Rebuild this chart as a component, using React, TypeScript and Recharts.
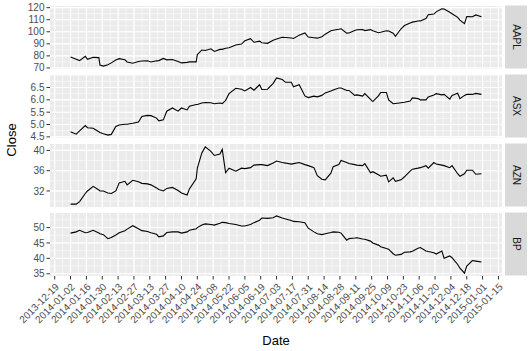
import { CartesianGrid, Line, LineChart, XAxis, YAxis } from "recharts"

const dates = [
  "2014-01-02", "2014-01-07", "2014-01-10", "2014-01-15", "2014-01-17", "2014-01-22", "2014-01-27", "2014-01-28", "2014-01-31", "2014-02-04",
  "2014-02-07", "2014-02-11", "2014-02-14", "2014-02-19", "2014-02-21", "2014-02-26", "2014-03-03", "2014-03-06", "2014-03-11", "2014-03-14",
  "2014-03-19", "2014-03-21", "2014-03-25", "2014-03-28", "2014-04-02", "2014-04-07", "2014-04-10", "2014-04-15", "2014-04-17", "2014-04-23",
  "2014-04-24", "2014-04-28", "2014-05-01", "2014-05-06", "2014-05-09", "2014-05-14", "2014-05-16", "2014-05-19", "2014-05-22", "2014-05-28",
  "2014-06-02", "2014-06-05", "2014-06-10", "2014-06-13", "2014-06-18", "2014-06-20", "2014-06-25", "2014-06-30", "2014-07-03", "2014-07-08",
  "2014-07-11", "2014-07-16", "2014-07-18", "2014-07-23", "2014-07-28", "2014-07-31", "2014-08-05", "2014-08-08", "2014-08-12", "2014-08-15",
  "2014-08-20", "2014-08-22", "2014-08-27", "2014-08-29", "2014-09-03", "2014-09-05", "2014-09-10", "2014-09-12", "2014-09-17", "2014-09-19",
  "2014-09-24", "2014-09-26", "2014-10-01", "2014-10-03", "2014-10-08", "2014-10-10", "2014-10-14", "2014-10-16", "2014-10-21", "2014-10-24",
  "2014-10-29", "2014-10-31", "2014-11-05", "2014-11-07", "2014-11-12", "2014-11-14", "2014-11-19", "2014-11-21", "2014-11-26", "2014-11-28",
  "2014-12-03", "2014-12-05", "2014-12-10", "2014-12-12", "2014-12-16", "2014-12-18", "2014-12-23", "2014-12-26", "2014-12-31",
]

const aapl = [
  79.0, 77.2, 76.1, 79.6, 77.2, 78.8, 78.6, 72.4, 71.5, 72.7,
  74.2, 76.6, 77.7, 76.8, 75.0, 73.9, 75.4, 75.8, 76.0, 75.0,
  75.9, 76.1, 77.9, 76.7, 77.0, 75.4, 74.2, 74.6, 75.0, 75.0,
  81.1, 84.9, 84.5, 85.9, 83.7, 85.4, 85.4, 86.4, 86.8, 89.1,
  89.8, 92.5, 94.3, 91.3, 92.2, 90.9, 90.4, 92.9, 94.0, 95.4,
  95.2, 94.8, 94.4, 97.2, 99.0, 95.6, 95.1, 94.7, 95.9, 98.0,
  100.9, 101.3, 102.1, 102.5, 98.9, 99.0, 101.0, 101.7, 101.8, 101.0,
  101.8, 100.8, 99.2, 99.6, 100.8, 100.7, 98.8, 96.3, 102.5, 105.2,
  107.3, 108.0, 108.9, 109.0, 111.0, 114.2, 114.7, 116.5, 119.0, 118.9,
  116.2, 115.0, 112.0, 109.7, 106.8, 112.7, 112.5, 114.0, 112.4,
]

const asx = [
  4.71, 4.61, 4.74, 4.96, 4.87, 4.85, 4.71, 4.68, 4.63, 4.57,
  4.6, 4.92, 4.98, 5.01, 5.01, 5.05, 5.1, 5.33, 5.37, 5.36,
  5.26, 5.15, 5.19, 5.54, 5.67, 5.54, 5.67, 5.59, 5.74, 5.81,
  5.81, 5.87, 5.89, 5.88, 5.84, 5.87, 5.85, 5.98, 6.25, 6.47,
  6.43, 6.36, 6.5, 6.39, 6.61, 6.42, 6.43, 6.67, 6.89, 6.82,
  6.71, 6.71, 6.53, 6.61, 6.16, 6.09, 6.15, 6.12, 6.18, 6.28,
  6.36, 6.4, 6.48, 6.48, 6.38, 6.38, 6.18, 6.2, 6.15, 6.25,
  6.02, 5.93, 6.16, 6.3, 6.3, 6.0, 5.84, 5.85, 5.88, 5.9,
  5.95, 6.08, 6.05, 6.0, 6.0, 6.12, 6.2, 6.25, 6.2, 6.22,
  6.03, 6.18, 6.27, 6.05, 6.18, 6.22, 6.22, 6.26, 6.22,
]

const azn = [
  29.4, 29.4, 29.9, 31.5, 32.0, 32.9, 32.2, 32.0, 32.0, 31.6,
  31.5, 32.0, 33.6, 33.9, 33.2, 34.1, 33.8, 33.5, 33.4, 33.2,
  32.6, 32.3, 32.0, 32.5, 32.7, 32.1, 31.6, 31.2, 32.4, 34.4,
  36.5, 39.5, 40.7, 39.8, 39.0, 39.3, 40.2, 35.6, 36.5, 35.9,
  36.5, 36.4, 36.6, 37.1, 37.2, 37.2, 37.0, 37.5, 37.9, 37.6,
  37.5, 37.3, 37.4, 37.6, 37.2, 37.0, 36.6, 35.0, 34.3, 34.2,
  35.5, 36.8, 37.2, 38.0, 37.6, 37.4, 37.2, 37.1, 37.0, 37.4,
  35.6, 35.8, 35.2, 34.9, 35.1, 33.8, 34.6, 33.9, 34.2, 34.8,
  35.9, 36.3, 36.5, 36.6, 37.0, 36.5, 37.6, 37.3, 37.1, 37.0,
  36.6, 37.0, 35.4, 34.9, 35.4, 36.1, 36.1, 35.3, 35.4,
]

const bp = [
  48.2, 48.6, 49.1, 48.3, 48.4, 49.1, 48.2, 48.0, 47.7, 46.4,
  46.8, 47.6, 48.3, 49.0, 49.5, 50.6, 49.6, 49.0, 48.7, 48.3,
  47.8, 47.0, 47.3, 48.4, 48.6, 48.6, 48.2, 48.6, 49.1, 49.6,
  50.0, 50.8, 51.2, 51.0, 50.8, 51.4, 51.7, 51.6, 51.3, 51.0,
  50.5, 50.5, 51.0, 51.6, 52.4, 53.1, 53.0, 53.2, 53.8, 53.1,
  52.8, 52.3, 52.0, 51.9, 51.6, 49.8, 48.6, 48.0, 47.7, 48.0,
  48.4, 48.6, 48.5, 48.2, 45.9, 46.4, 46.6, 46.7, 46.3, 46.2,
  45.6, 45.0, 44.3, 43.8, 43.2, 43.0, 41.5, 41.0, 41.3, 42.0,
  42.1, 42.3, 43.3, 43.5, 42.4, 42.2, 41.8, 41.4, 42.4, 40.0,
  40.8, 40.2, 38.0, 36.8, 35.2, 37.5, 39.3, 39.1, 38.8,
]

const xTickLabels = [
  "2013-12-19", "2014-01-02", "2014-01-16", "2014-01-30", "2014-02-13", "2014-02-27", "2014-03-13", "2014-03-27",
  "2014-04-10", "2014-04-24", "2014-05-08", "2014-05-22", "2014-06-05", "2014-06-19", "2014-07-03", "2014-07-17",
  "2014-07-31", "2014-08-14", "2014-08-28", "2014-09-11", "2014-09-25", "2014-10-09", "2014-10-23", "2014-11-06",
  "2014-11-20", "2014-12-04", "2014-12-18", "2015-01-01", "2015-01-15",
]

const aaplTicks = [70, 80, 90, 100, 110, 120]
const asxTicks = [4.5, 5.0, 5.5, 6.0, 6.5]
const aznTicks = [32, 36, 40]
const bpTicks = [35, 40, 45, 50]

const times = dates.map((d) => Date.parse(d))
const xTicks = xTickLabels.map((d) => Date.parse(d))

// ggplot-style 5% padding on both sides
function expand(vals: number[]): [number, number] {
  const lo = Math.min(...vals)
  const hi = Math.max(...vals)
  const pad = (hi - lo) * 0.05
  return [lo - pad, hi + pad]
}

// minor breaks: midpoints between majors, plus one major step outside on each side
function minorBreaks(major: number[], domain: [number, number]) {
  const step = major[1] - major[0]
  const b = [major[0] - step, ...major, major[major.length - 1] + step]
  const out: number[] = []
  for (let i = 0; i < b.length; i++) {
    out.push(b[i])
    if (i < b.length - 1) out.push((b[i] + b[i + 1]) / 2)
  }
  return out.filter((v) => v > domain[0] && v < domain[1])
}

const xDomain = expand(times)
const xMinor = minorBreaks(xTicks, xDomain)

const PANEL_H = 63
const PAD = 8 // room so edge tick labels are not clipped
const FONT = "'Liberation Sans', Arial, Helvetica, sans-serif"

function DateTick(props: any) {
  const { x, y, payload } = props
  const label = xTickLabels[xTicks.indexOf(payload.value)]
  return (
    <text
      x={x}
      y={y}
      dy={7}
      textAnchor="end"
      fill="#4D4D4D"
      fontSize={10}
      transform={`rotate(-45, ${x}, ${y})`}
    >
      {label}
    </text>
  )
}

function Panel(props: { values: number[]; ticks: number[]; digits: number; top: number; showX: boolean }) {
  const { values, ticks, digits, top, showX } = props
  const data = times.map((t, i) => ({ t, v: values[i] }))
  const yDomain = expand(values)
  const yMinor = minorBreaks(ticks, yDomain)
  return (
    <div style={{ position: "absolute", left: 0, top: top - PAD }}>
      <LineChart
        width={505}
        height={showX ? PANEL_H + PAD + 60 : PANEL_H + 2 * PAD}
        data={data}
        margin={{ top: PAD, right: 3, bottom: showX ? 0 : PAD, left: 0 }}
      >
        <CartesianGrid
          fill="#EBEBEB"
          stroke="#FFFFFF"
          strokeWidth={0.55}
          horizontalValues={yMinor}
          verticalValues={xMinor}
        />
        <CartesianGrid
          stroke="#FFFFFF"
          strokeWidth={1.1}
          horizontalValues={ticks}
          verticalValues={xTicks}
        />
        <XAxis
          dataKey="t"
          type="number"
          domain={xDomain}
          allowDataOverflow
          ticks={xTicks}
          interval={0}
          hide={!showX}
          height={60}
          axisLine={false}
          tickLine={{ stroke: "#333333" }}
          tickSize={3.5}
          tickMargin={3}
          tick={(p: any) => <DateTick {...p} />}
        />
        <YAxis
          type="number"
          domain={yDomain}
          allowDataOverflow
          ticks={ticks}
          interval={0}
          width={50}
          axisLine={false}
          tickLine={{ stroke: "#333333" }}
          tickSize={3.5}
          tickMargin={2}
          tick={{ fill: "#4D4D4D", fontSize: 10 }}
          tickFormatter={(v: number) => v.toFixed(digits)}
        />
        <Line
          type="linear"
          dataKey="v"
          stroke="#000000"
          strokeWidth={1.1}
          dot={false}
          isAnimationActive={false}
        />
      </LineChart>
    </div>
  )
}

const panels = [
  { name: "AAPL", values: aapl, ticks: aaplTicks, digits: 0, top: 5.5 },
  { name: "ASX", values: asx, ticks: asxTicks, digits: 1, top: 74.5 },
  { name: "AZN", values: azn, ticks: aznTicks, digits: 0, top: 143.5 },
  { name: "BP", values: bp, ticks: bpTicks, digits: 0, top: 212.5 },
]

export default function App() {
  return (
    <div
      style={{
        position: "absolute",
        left: 0,
        top: 0,
        width: 532,
        height: 351,
        background: "#FFFFFF",
        fontFamily: FONT,
        overflow: "hidden",
      }}
    >
      {panels.map((p, i) => (
        <Panel
          key={p.name}
          values={p.values}
          ticks={p.ticks}
          digits={p.digits}
          top={p.top}
          showX={i === panels.length - 1}
        />
      ))}
      <svg
        width={532}
        height={351}
        style={{ position: "absolute", left: 0, top: 0, pointerEvents: "none" }}
      >
        {panels.map((p) => (
          <g key={p.name}>
            <rect x={505} y={p.top} width={22} height={PANEL_H} fill="#D9D9D9" />
            <text
              x={516}
              y={p.top + PANEL_H / 2}
              transform={`rotate(90, 516, ${p.top + PANEL_H / 2})`}
              textAnchor="middle"
              dominantBaseline="central"
              fontSize={10}
              fill="#1A1A1A"
            >
              {p.name}
            </text>
          </g>
        ))}
        <text
          x={15.5}
          y={140}
          transform="rotate(-90, 15.5, 140)"
          textAnchor="middle"
          fontSize={13}
          fill="#000000"
        >
          Close
        </text>
        <text x={276} y={345} textAnchor="middle" fontSize={13} fill="#000000">
          Date
        </text>
      </svg>
    </div>
  )
}
